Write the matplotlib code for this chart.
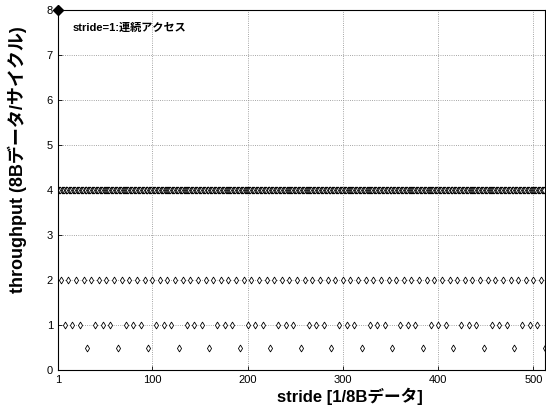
import numpy as np
import matplotlib
matplotlib.use("Agg")
import matplotlib.pyplot as plt

plt.rcParams['font.family'] = ['Liberation Sans', 'Noto Sans CJK JP', 'DejaVu Sans']

# throughput levels
stride_8 = [1]
stride_half = [32, 64, 96, 128, 160, 192, 224, 256, 288, 320, 352, 384, 416, 448, 480, 512]
stride_1 = [8, 16, 24, 40, 48, 56, 72, 80, 88, 104, 112, 120, 136, 144, 152, 168, 176, 184,
            200, 208, 216, 232, 240, 248, 264, 272, 280, 296, 304, 312, 328, 336, 344,
            360, 368, 376, 392, 400, 408, 424, 432, 440, 456, 464, 472, 488, 496, 504]
stride_2 = [4, 12, 20, 28, 36, 44, 52, 60, 68, 76, 84, 92, 100, 108, 116, 124, 132, 140,
            148, 156, 164, 172, 180, 188, 196, 204, 212, 220, 228, 236, 244, 252, 260,
            268, 276, 284, 292, 300, 308, 316, 324, 332, 340, 348, 356, 364, 372, 380,
            388, 396, 404, 412, 420, 428, 436, 444, 452, 460, 468, 476, 484, 492, 500, 508]
# every other stride up to 512 sits at 4
used = set(stride_8 + stride_half + stride_1 + stride_2)
stride_4 = [s for s in range(1, 513) if s not in used]

xticks = [1, 100, 200, 300, 400, 500]
yticks = [0, 1, 2, 3, 4, 5, 6, 7, 8]

fig = plt.figure(figsize=(5.46, 4.05), dpi=100)
ax = fig.add_axes([0.106, 0.086, 0.892, 0.889])

mk = dict(marker='d', linestyle='none', markersize=3.5, markerfacecolor='white',
          markeredgecolor='black', markeredgewidth=0.6)
ax.plot(stride_4, [4] * len(stride_4), **mk)
ax.plot(stride_2, [2] * len(stride_2), **mk)
ax.plot(stride_1, [1] * len(stride_1), **mk)
ax.plot(stride_half, [0.5] * len(stride_half), **mk)
ax.plot(stride_8, [8], marker='D', linestyle='none', markersize=5, color='black', clip_on=False)

ax.set_xlim(1, 512)
ax.set_ylim(0, 8)
ax.set_xticks(xticks)
ax.set_yticks(yticks)
ax.tick_params(labelsize=8, direction='in', length=3, width=0.6)
ax.grid(True, linestyle=':', linewidth=0.6, color='#888888')
for sp in ax.spines.values():
    sp.set_linewidth(0.8)

ax.text(0.03, 0.965, 'stride=1:連続アクセス', transform=ax.transAxes, fontsize=8,
        fontweight='bold', va='top', ha='left')

fig.text(350 / 546, 1 - 396 / 405, 'stride [1/8Bデータ]', fontsize=12, fontweight='bold',
         ha='center', va='center')
fig.text(17 / 546, 1 - 160 / 405, 'throughput (8Bデータ/サイクル)', fontsize=13,
         fontweight='bold', rotation=90, ha='center', va='center')

fig.savefig('out.png', dpi=100)
